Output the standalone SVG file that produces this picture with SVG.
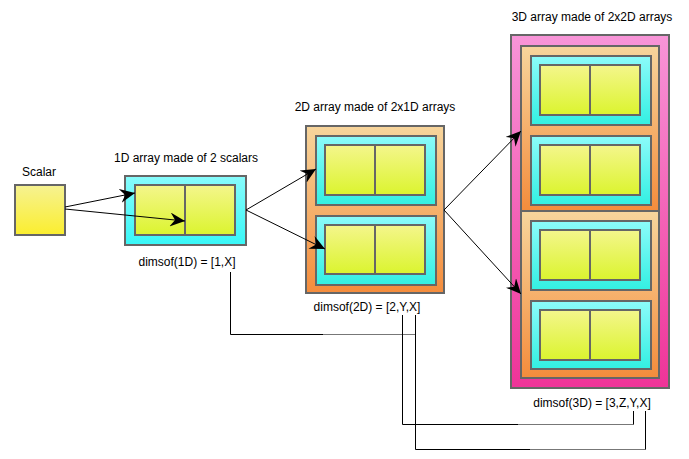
<svg xmlns="http://www.w3.org/2000/svg" width="689" height="459" viewBox="0 0 689 459">
  <defs>
    <linearGradient id="gScalar" x1="0" y1="0" x2="0" y2="1">
      <stop offset="0" stop-color="#f6f292"/>
      <stop offset="1" stop-color="#fbee2e"/>
    </linearGradient>
    <linearGradient id="gCell" x1="0" y1="0" x2="0" y2="1">
      <stop offset="0" stop-color="#f4f68c"/>
      <stop offset="1" stop-color="#dbf42e"/>
    </linearGradient>
    <linearGradient id="gCyan" x1="0" y1="0" x2="0" y2="1">
      <stop offset="0" stop-color="#8cfbfa"/>
      <stop offset="1" stop-color="#33f0e2"/>
    </linearGradient>
    <linearGradient id="gCyan1" x1="0" y1="0" x2="0" y2="1">
      <stop offset="0" stop-color="#88fcfc"/>
      <stop offset="1" stop-color="#38f7f7"/>
    </linearGradient>
    <linearGradient id="gOrange" x1="0" y1="0" x2="0" y2="1">
      <stop offset="0" stop-color="#f7d59c"/>
      <stop offset="1" stop-color="#f48c3c"/>
    </linearGradient>
    <linearGradient id="gPink" x1="0" y1="0" x2="0" y2="1">
      <stop offset="0" stop-color="#f895d8"/>
      <stop offset="1" stop-color="#ef3398"/>
    </linearGradient>
    <marker id="arrow" markerUnits="userSpaceOnUse" viewBox="0 0 15 14" markerWidth="15" markerHeight="14" refX="15" refY="7" orient="auto">
      <path d="M0,0 L15,7 L0,14 L5,7 Z" fill="#000"/>
    </marker>
  </defs>
  <style>
    .box { stroke: #666; stroke-width: 2; }
    .scalar { fill: url(#gScalar); }
    .cell { fill: url(#gCell); }
    .cyan { fill: url(#gCyan); }
    .cyan1 { fill: url(#gCyan1); }
    .orange { fill: url(#gOrange); }
    .pink { fill: url(#gPink); }
    .lbl { font-family: "Liberation Sans", Arial, sans-serif; font-size: 12px; fill: #000; text-anchor: middle; }
    .arr { stroke: #000; stroke-width: 1; fill: none; marker-end: url(#arrow); }
    .ln { stroke: #000; stroke-width: 1; fill: none; }
    .lg { stroke: #777; stroke-width: 1; fill: none; }
  </style>
  <rect width="689" height="459" fill="#fff"/>

  <g id="scalar">
    <rect class="box scalar" x="15" y="185" width="50" height="50"/>
    <text class="lbl" x="39" y="176">Scalar</text>
  </g>

  <g id="array1d">
    <rect class="box cyan1" x="125" y="176" width="121" height="69"/>
    <rect class="box cell" x="135" y="185" width="50" height="50"/>
    <rect class="box cell" x="185" y="185" width="50" height="50"/>
    <text class="lbl" x="186" y="162">1D array made of 2 scalars</text>
    <text class="lbl" x="187" y="266">dimsof(1D) = [1,X]</text>
  </g>

  <g id="array2d">
    <rect class="box orange" x="306" y="126" width="138" height="167"/>
    <rect class="box cyan" x="316" y="136" width="120" height="69"/>
    <rect class="box cell" x="325" y="145" width="50" height="50"/>
    <rect class="box cell" x="375" y="145" width="50" height="50"/>
    <rect class="box cyan" x="316" y="216" width="120" height="69"/>
    <rect class="box cell" x="325" y="225" width="50" height="49"/>
    <rect class="box cell" x="375" y="225" width="50" height="49"/>
    <text class="lbl" x="375" y="111">2D array made of 2x1D arrays</text>
    <text class="lbl" x="367" y="311">dimsof(2D) = [2,Y,X]</text>
  </g>

  <g id="array3d">
    <rect class="box pink" x="511" y="35" width="158" height="353"/>
    <rect class="box orange" x="521" y="46" width="138" height="165"/>
    <rect class="box cyan" x="531" y="56" width="120" height="69"/>
    <rect class="box cell" x="540" y="65" width="50" height="50"/>
    <rect class="box cell" x="590" y="65" width="50" height="50"/>
    <rect class="box cyan" x="531" y="136" width="120" height="69"/>
    <rect class="box cell" x="540" y="145" width="50" height="50"/>
    <rect class="box cell" x="590" y="145" width="50" height="50"/>
    <rect class="box orange" x="521" y="211" width="138" height="167"/>
    <rect class="box cyan" x="531" y="221" width="120" height="69"/>
    <rect class="box cell" x="540" y="230" width="50" height="50"/>
    <rect class="box cell" x="590" y="230" width="50" height="50"/>
    <rect class="box cyan" x="531" y="301" width="120" height="68"/>
    <rect class="box cell" x="540" y="310" width="50" height="50"/>
    <rect class="box cell" x="590" y="310" width="50" height="50"/>
    <text class="lbl" x="592" y="21">3D array made of 2x2D arrays</text>
    <text class="lbl" x="592" y="407">dimsof(3D) = [3,Z,Y,X]</text>
  </g>

  <g id="connectors">
    <line class="arr" x1="65" y1="207" x2="135" y2="193"/>
    <line class="arr" x1="65" y1="209" x2="185" y2="221"/>
    <line class="arr" x1="246" y1="210" x2="316" y2="169"/>
    <line class="arr" x1="246" y1="210" x2="325" y2="249"/>
    <line class="arr" x1="444" y1="210" x2="521" y2="131"/>
    <line class="arr" x1="444" y1="210" x2="521" y2="294"/>

    <polyline class="ln" points="230.5,272 230.5,334.5 323,334.5"/>
    <polyline class="lg" points="323,334.5 415.5,334.5"/>
    <polyline class="ln" points="415.5,315 415.5,449.5 530,449.5"/>
    <polyline class="lg" points="530,449.5 645.5,449.5"/>
    <polyline class="ln" points="645.5,449.5 645.5,411"/>
    <polyline class="ln" points="402.5,315 402.5,424.5 518,424.5"/>
    <polyline class="lg" points="518,424.5 633.5,424.5"/>
    <polyline class="ln" points="633.5,424.5 633.5,411"/>
  </g>
</svg>
